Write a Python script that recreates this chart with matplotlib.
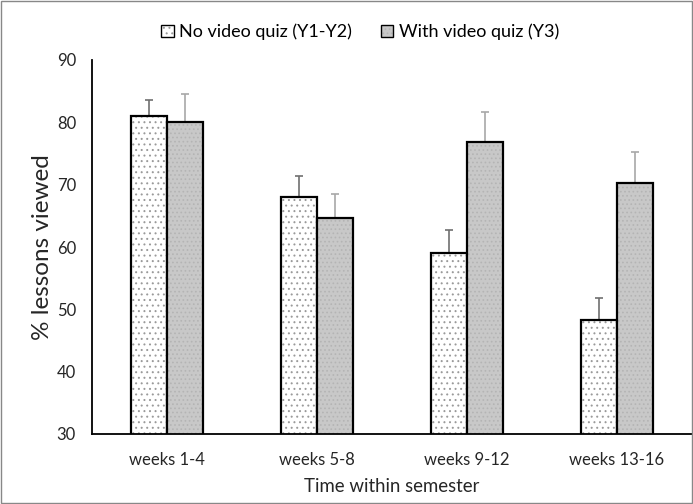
import matplotlib
matplotlib.use("Agg")
import matplotlib.pyplot as plt
import numpy as np
from matplotlib.patches import Rectangle

categories = ["weeks 1-4", "weeks 5-8", "weeks 9-12", "weeks 13-16"]
no_quiz = [81.0, 68.0, 59.0, 48.3]
no_quiz_err = [2.6, 3.4, 3.7, 3.5]
with_quiz = [80.1, 64.6, 76.9, 70.2]
with_quiz_err = [4.4, 3.9, 4.7, 5.1]
series_labels = ["No video quiz (Y1-Y2)", "With video quiz (Y3)"]

plt.rcParams['font.family'] = ['Lato', 'DejaVu Sans']
plt.rcParams['hatch.linewidth'] = 0.7

fig = plt.figure(figsize=(6.93, 5.04), dpi=100)
ax = fig.add_axes([92/693, (504-434)/504, (692-92)/693, (434-60)/504])

x = np.arange(len(categories))
w = 0.24
plt.rcParams['hatch.color'] = '#9a9a9a'
b1 = ax.bar(x - w/2, no_quiz, w, color='white', edgecolor='black',
            linewidth=1.6, hatch='...', label=series_labels[0], zorder=2)
b2 = ax.bar(x + w/2, with_quiz, w, color='#c8c8c8', edgecolor='black',
            linewidth=1.6, label=series_labels[1], zorder=2)
for r in b1:
    r._hatch_color = matplotlib.colors.to_rgba('#9a9a9a')
for r in b2:
    r.set_hatch('....')
    r._hatch_color = matplotlib.colors.to_rgba('#b4b4b4')

ax.errorbar(x - w/2, no_quiz, yerr=[np.zeros(4), no_quiz_err], fmt='none',
            ecolor='#707070', elinewidth=1.2, capsize=3, capthick=1.2, zorder=1)
ax.errorbar(x + w/2, with_quiz, yerr=[np.zeros(4), with_quiz_err], fmt='none',
            ecolor='#a8a8a8', elinewidth=1.2, capsize=3, capthick=1.2, zorder=1)

ax.set_ylim(30, 90)
ax.set_xlim(-0.5, 3.5)
ax.set_yticks([30, 40, 50, 60, 70, 80, 90])
ax.set_xticks(x)
ax.set_xticklabels(categories)
ax.tick_params(axis='both', length=0, labelsize=12, colors='#262626')
ax.tick_params(axis='y', pad=11.5)
ax.tick_params(axis='x', pad=13)
for s in ['top', 'right']:
    ax.spines[s].set_visible(False)
ax.spines['left'].set_linewidth(1.3)
ax.spines['bottom'].set_linewidth(1.3)
ax.set_ylabel("% lessons viewed", fontsize=17.5, color='#262626', labelpad=3)
ax.set_xlabel("Time within semester", fontsize=13.4, color='#262626', labelpad=7)

leg = fig.legend(handles=[b1, b2], labels=series_labels, loc='center',
                 bbox_to_anchor=(360/693, 1 - 32/504), ncol=2, frameon=False,
                 fontsize=13, handlelength=0.7, handleheight=0.7,
                 handletextpad=0.3, columnspacing=1.6)
for h in leg.legend_handles:
    h.set_linewidth(1.0)

fig.patches.append(Rectangle((0.002, 0.002), 0.996, 0.996, transform=fig.transFigure,
                             fill=False, edgecolor='#888888', linewidth=1.0))

fig.savefig("out.png", dpi=100)
